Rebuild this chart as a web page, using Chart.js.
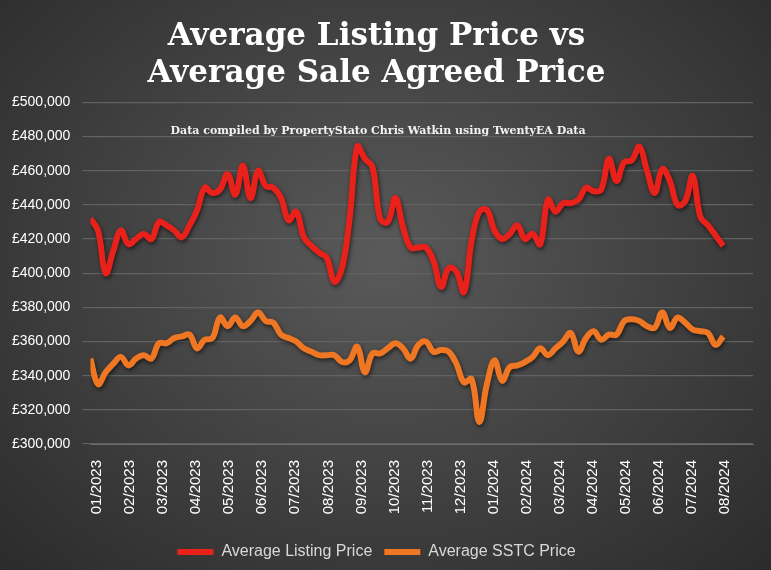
<!DOCTYPE html>
<html>
<head>
<meta charset="utf-8">
<script src="https://cdn.jsdelivr.net/npm/chart.js@4"></script>
<style>
  html, body { margin: 0; padding: 0; }
  body { width: 771px; height: 570px; background: radial-gradient(ellipse at 50% 45%, #5a5a5a 0%, #444 45%, #2b2b2b 100%); }
  #wrap { width: 771px; height: 570px; position: relative; }
</style>
</head>
<body>
<div id="wrap"><canvas id="chart" width="771" height="570"></canvas></div>
<script>
// weekly values, Jan 2023 .. end Jul 2024
const listingPrice = [432,425,400,413,425,417,420,423,420,430,428,425,421,428,437,450,447,449,458,446,463,444,460,451,450,444,431,436,421,416,412,409,395,403,432,474,467,462,432,430,444,427,415,415,
  415,407,392,403,401,389,419,436,437,425,420,423,428,420,423,417,443,436,441,441,443,450,448,449,467,454,465,466,474,460,447,461,454,440,442,457,433,428,422,416];
const sstcPrice = [350,335,342,347,351,346,350,352,350,359,359,362,363,364,356,361,362,374,369,374,369,372,377,372,371,364,362,360,356,354,352,352,352,348,349,357,342,353,353,356,359,356,350,358,
  360,354,355,354,347,336,338,313,335,349,337,345,346,348,351,356,352,356,360,365,354,362,366,361,364,364,372,373,372,369,368,377,368,374,371,367,366,365,358,363];
const monthLabels = ["01/2023","02/2023","03/2023","04/2023","05/2023","06/2023","07/2023","08/2023","09/2023","10/2023","11/2023","12/2023","01/2024","02/2024","03/2024","04/2024","05/2024","06/2024","07/2024","08/2024"];
const weeksPerMonth = 4.33;
const firstMonthWeek = 0.9;

function toPoints(arr) {
  return arr.map((v, i) => ({ x: i, y: v * 1000 }));
}

const subtitlePlugin = {
  id: "subtitleText",
  afterDraw(chart) {
    const ctx = chart.ctx;
    ctx.save();
    ctx.font = "bold 11px 'DejaVu Serif'";
    ctx.fillStyle = "#f2f2f2";
    ctx.textAlign = "center";
    ctx.textBaseline = "middle";
    ctx.fillText("Data compiled by PropertyStato Chris Watkin using TwentyEA Data", 378, 131);
    ctx.restore();
  }
};

const shadowPlugin = {
  id: "lineShadow",
  beforeDatasetsDraw(chart) {
    const ctx = chart.ctx;
    ctx.save();
    ctx.shadowColor = "rgba(0,0,0,0.6)";
    ctx.shadowBlur = 4;
    ctx.shadowOffsetX = 1;
    ctx.shadowOffsetY = 2;
  },
  afterDatasetsDraw(chart) {
    chart.ctx.restore();
  }
};

new Chart(document.getElementById("chart"), {
  type: "line",
  data: {
    datasets: [
      { label: "Average Listing Price", data: toPoints(listingPrice), borderColor: "#e8211a", backgroundColor: "#e8211a", borderWidth: 6, pointRadius: 0, tension: 0.4 },
      { label: "Average SSTC Price", data: toPoints(sstcPrice), borderColor: "#ef7622", backgroundColor: "#ef7622", borderWidth: 6, pointRadius: 0, tension: 0.4 }
    ]
  },
  options: {
    responsive: false,
    animation: false,
    devicePixelRatio: 1,
    layout: { padding: { left: 0, right: 18, top: 4, bottom: 0 } },
    plugins: {
      title: {
        display: true,
        text: ["Average Listing Price vs", "Average Sale Agreed Price"],
        color: "#ffffff",
        font: { family: "'DejaVu Serif'", size: 31, weight: "bold" },
        padding: { top: 14, bottom: 10 },
        lineHeight: 1.0
      },
      legend: {
        position: "bottom",
        labels: {
          color: "#d8d8d8",
          font: { family: "'Liberation Sans'", size: 16 },
          boxWidth: 36,
          boxHeight: 6,
          padding: 12,
          generateLabels(chart) {
            return chart.data.datasets.map((ds, i) => ({
              text: ds.label, fillStyle: ds.borderColor, strokeStyle: ds.borderColor,
              lineWidth: 0, datasetIndex: i, fontColor: "#d8d8d8"
            }));
          }
        }
      },
      tooltip: { enabled: false }
    },
    scales: {
      x: {
        type: "linear",
        min: 0,
        max: 86.9,
        afterBuildTicks(axis) {
          axis.ticks = monthLabels.map((m, i) => ({ value: firstMonthWeek + i * weeksPerMonth }));
        },
        ticks: {
          color: "#ffffff",
          font: { family: "'Liberation Sans'", size: 15 },
          maxRotation: 90, minRotation: 90,
          autoSkip: false,
          padding: 8,
          callback: (v, i) => monthLabels[i]
        },
        afterFit(axis) { axis.height = 88; },
        grid: { display: false },
        border: { color: "#6a6a6a" }
      },
      y: {
        min: 300000,
        max: 500000,
        ticks: {
          stepSize: 20000,
          color: "#ffffff",
          padding: 12,
          font: { family: "'Liberation Sans'", size: 14 },
          callback: v => "£" + v.toLocaleString("en-GB")
        },
        grid: { color: "#626262", lineWidth: 1.2 },
        border: { display: false }
      }
    }
  },
  plugins: [subtitlePlugin, shadowPlugin]
});
</script>
</body>
</html>
